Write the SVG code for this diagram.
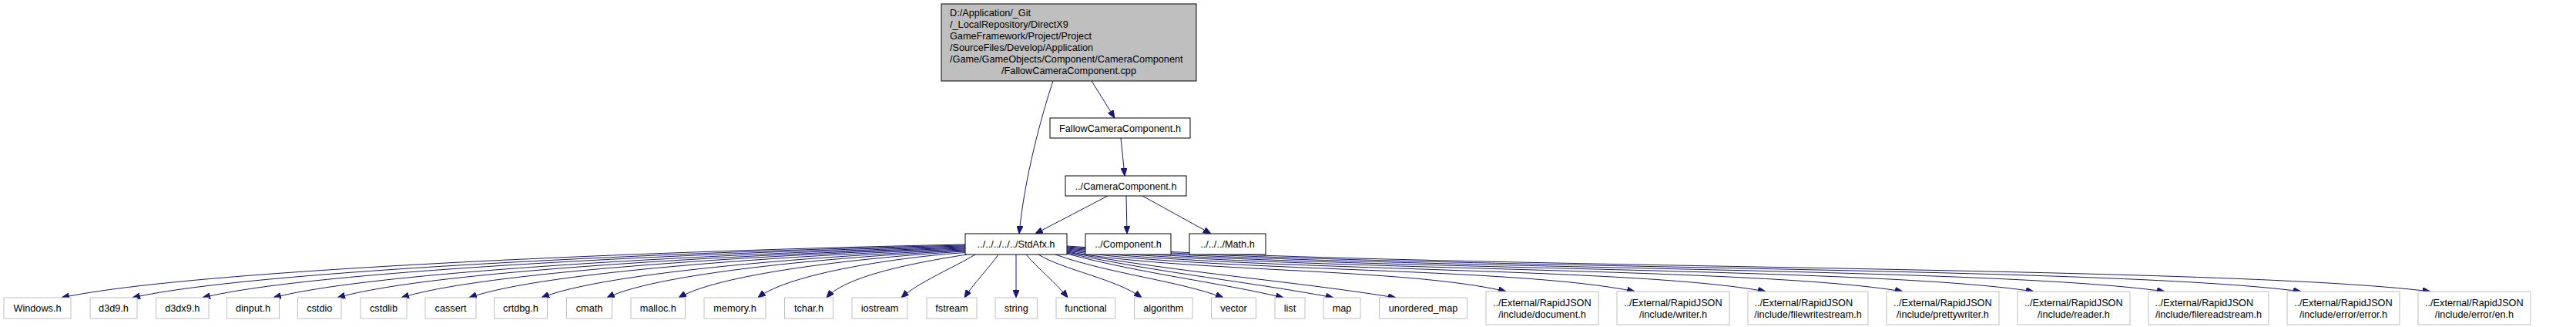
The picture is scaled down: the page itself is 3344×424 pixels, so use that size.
<svg xmlns="http://www.w3.org/2000/svg" width="3344" height="424" viewBox="0 0 3344 424">
<defs>
<marker id="arrow" markerWidth="10" markerHeight="8" refX="10" refY="4" orient="auto" markerUnits="userSpaceOnUse">
<path d="M0,0 L10,4 L0,8 z" fill="#191970" stroke="#191970" stroke-width="1"/>
</marker>
<style>
text{font-family:"Liberation Sans",Arial,Helvetica,sans-serif;font-size:12.7px;fill:#000}
.c{text-anchor:middle}
.root{fill:#bfbfbf;stroke:#000;stroke-width:1}
.doc{fill:#fff;stroke:#000;stroke-width:1}
.leaf{fill:#fff;stroke:#bfbfbf;stroke-width:1}
.edges path{fill:none;stroke:#191970;stroke-width:1;marker-end:url(#arrow)}
</style>
</defs>
<rect width="3344" height="424" fill="#fff"/>

<g id="edges" class="edges">
<path d="M1367,105 C1352,150 1330,230 1323,303"/>
<path d="M1417,105 L1447,153"/>
<path d="M1455,179 L1460,228"/>
<path d="M1438,254 L1344,303"/>
<path d="M1462,254 L1463,303"/>
<path d="M1483,254 L1572,303"/>
<path d="M1253,317 C901,324 256,348 80,386"/>
<path d="M1253,318 C929,325 334,349 172,386"/>
<path d="M1253,319 C956,326 412,349 263,386"/>
<path d="M1253,320 C984,327 490,350 355,386"/>
<path d="M1253,321 C1008,328 560,350 438,386"/>
<path d="M1253,322 C1033,328 631,351 521,386"/>
<path d="M1253,323 C1060,329 706,351 609,386"/>
<path d="M1253,324 C1088,330 786,352 703,386"/>
<path d="M1253,325 C1114,331 858,352 788,386"/>
<path d="M1253,326 C1141,332 937,353 881,386"/>
<path d="M1253,327.5 C1172,333 1024,354 984,386"/>
<path d="M1255,330 C1205,338 1100,355 1073,386"/>
<path d="M1266,330 C1240,346 1192,366 1170,386"/>
<path d="M1296,330 C1285,346 1262,370 1252,386"/>
<path d="M1319,330 L1319,386"/>
<path d="M1332,330 C1345,346 1372,368 1386,386"/>
<path d="M1348,330 C1380,350 1450,362 1482,386"/>
<path d="M1370,330 C1440,355 1530,364 1588,386"/>
<path d="M1385,329 C1483,355 1582,366 1666,386"/>
<path d="M1385,328 C1506,354 1627,366 1731,386"/>
<path d="M1385,327 C1534,354 1684,365 1812,386"/>
<path d="M1385,326 C1527,353 1827,347 1955,378"/>
<path d="M1385,325 C1569,352.5 1974,346.5 2122,378"/>
<path d="M1385,324 C1612,352 2123,346 2292,378"/>
<path d="M1385,323 C1656,351.5 2280,345.5 2470,378"/>
<path d="M1385,322 C1699,351 2429,345 2640,378"/>
<path d="M1385,321 C1741,350.5 2579,344.5 2810,378"/>
<path d="M1385,320 C1785,350 2735,344 2987,378"/>
<path d="M1385,319 C1827,349.5 2883,343.5 3155,378"/>
</g>

<g id="node-root">
<rect class="root" x="1222" y="5" width="331" height="100"/>
<text x="1233" y="21">D:/Application/_Git</text>
<text x="1233" y="36">/_LocalRepository/DirectX9</text>
<text x="1233" y="51">GameFramework/Project/Project</text>
<text x="1233" y="66">/SourceFiles/Develop/Application</text>
<text x="1233" y="81">/Game/GameObjects/Component/CameraComponent</text>
<text class="c" x="1387.5" y="96">/FallowCameraComponent.cpp</text>
</g>
<g id="node-fallow">
<rect class="doc" x="1363" y="153" width="182" height="26"/>
<text class="c" x="1454" y="170.5">FallowCameraComponent.h</text>
</g>
<g id="node-camera">
<rect class="doc" x="1383" y="228" width="157" height="26"/>
<text class="c" x="1461.5" y="245.5">../CameraComponent.h</text>
</g>
<g id="node-stdafx">
<rect class="doc" x="1253" y="303" width="132" height="27"/>
<text class="c" x="1319" y="321">../../../../../StdAfx.h</text>
</g>
<g id="node-component">
<rect class="doc" x="1409" y="303" width="111" height="27"/>
<text class="c" x="1464.5" y="321">../Component.h</text>
</g>
<g id="node-math">
<rect class="doc" x="1544" y="303" width="99" height="27"/>
<text class="c" x="1593.5" y="321">../../../Math.h</text>
</g>

<g id="node-windows"><rect class="leaf" x="5" y="386" width="87" height="27"/><text class="c" x="48.5" y="404">Windows.h</text></g>
<g id="node-d3d9"><rect class="leaf" x="117" y="386" width="61" height="27"/><text class="c" x="147.5" y="404">d3d9.h</text></g>
<g id="node-d3dx9"><rect class="leaf" x="202.5" y="386" width="68.5" height="27"/><text class="c" x="236.75" y="404">d3dx9.h</text></g>
<g id="node-dinput"><rect class="leaf" x="294.5" y="386" width="68" height="27"/><text class="c" x="328.5" y="404">dinput.h</text></g>
<g id="node-cstdio"><rect class="leaf" x="386.5" y="386" width="56.5" height="27"/><text class="c" x="414.75" y="404">cstdio</text></g>
<g id="node-cstdlib"><rect class="leaf" x="468" y="386" width="60" height="27"/><text class="c" x="498" y="404">cstdlib</text></g>
<g id="node-cassert"><rect class="leaf" x="552" y="386" width="66" height="27"/><text class="c" x="585" y="404">cassert</text></g>
<g id="node-crtdbg"><rect class="leaf" x="641.5" y="386" width="69" height="27"/><text class="c" x="676" y="404">crtdbg.h</text></g>
<g id="node-cmath"><rect class="leaf" x="735.5" y="386" width="59" height="27"/><text class="c" x="765" y="404">cmath</text></g>
<g id="node-malloc"><rect class="leaf" x="819" y="386" width="70.5" height="27"/><text class="c" x="854.25" y="404">malloc.h</text></g>
<g id="node-memory"><rect class="leaf" x="914" y="386" width="80" height="27"/><text class="c" x="954" y="404">memory.h</text></g>
<g id="node-tchar"><rect class="leaf" x="1018.5" y="386" width="63" height="27"/><text class="c" x="1050" y="404">tchar.h</text></g>
<g id="node-iostream"><rect class="leaf" x="1106" y="386" width="72" height="27"/><text class="c" x="1142" y="404">iostream</text></g>
<g id="node-fstream"><rect class="leaf" x="1203" y="386" width="65" height="27"/><text class="c" x="1235.5" y="404">fstream</text></g>
<g id="node-string"><rect class="leaf" x="1292" y="386" width="54.5" height="27"/><text class="c" x="1319.25" y="404">string</text></g>
<g id="node-functional"><rect class="leaf" x="1371" y="386" width="77" height="27"/><text class="c" x="1409.5" y="404">functional</text></g>
<g id="node-algorithm"><rect class="leaf" x="1472.5" y="386" width="75.5" height="27"/><text class="c" x="1510.25" y="404">algorithm</text></g>
<g id="node-vector"><rect class="leaf" x="1572.5" y="386" width="58" height="27"/><text class="c" x="1601.5" y="404">vector</text></g>
<g id="node-list"><rect class="leaf" x="1655" y="386" width="39" height="27"/><text class="c" x="1674.5" y="404">list</text></g>
<g id="node-map"><rect class="leaf" x="1718" y="386" width="48" height="27"/><text class="c" x="1742" y="404">map</text></g>
<g id="node-unordered_map"><rect class="leaf" x="1790.5" y="386" width="114" height="27"/><text class="c" x="1847.5" y="404">unordered_map</text></g>

<g id="node-document"><rect class="leaf" x="1929" y="378" width="146" height="43"/><text x="1938" y="396.5">../External/RapidJSON</text><text class="c" x="2002" y="411.5">/include/document.h</text></g>
<g id="node-writer"><rect class="leaf" x="2099" y="378" width="146" height="43"/><text x="2108" y="396.5">../External/RapidJSON</text><text class="c" x="2172" y="411.5">/include/writer.h</text></g>
<g id="node-filewritestream"><rect class="leaf" x="2269" y="378" width="156" height="43"/><text x="2277.5" y="396.5">../External/RapidJSON</text><text class="c" x="2347" y="411.5">/include/filewritestream.h</text></g>
<g id="node-prettywriter"><rect class="leaf" x="2449" y="378" width="146" height="43"/><text x="2458" y="396.5">../External/RapidJSON</text><text class="c" x="2522" y="411.5">/include/prettywriter.h</text></g>
<g id="node-reader"><rect class="leaf" x="2619" y="378" width="146" height="43"/><text x="2628" y="396.5">../External/RapidJSON</text><text class="c" x="2692" y="411.5">/include/reader.h</text></g>
<g id="node-filereadstream"><rect class="leaf" x="2789" y="378" width="156" height="43"/><text x="2797.5" y="396.5">../External/RapidJSON</text><text class="c" x="2867" y="411.5">/include/filereadstream.h</text></g>
<g id="node-error"><rect class="leaf" x="2969" y="378" width="146" height="43"/><text x="2978" y="396.5">../External/RapidJSON</text><text class="c" x="3042" y="411.5">/include/error/error.h</text></g>
<g id="node-en"><rect class="leaf" x="3139" y="378" width="146" height="43"/><text x="3148" y="396.5">../External/RapidJSON</text><text class="c" x="3212" y="411.5">/include/error/en.h</text></g>
</svg>
